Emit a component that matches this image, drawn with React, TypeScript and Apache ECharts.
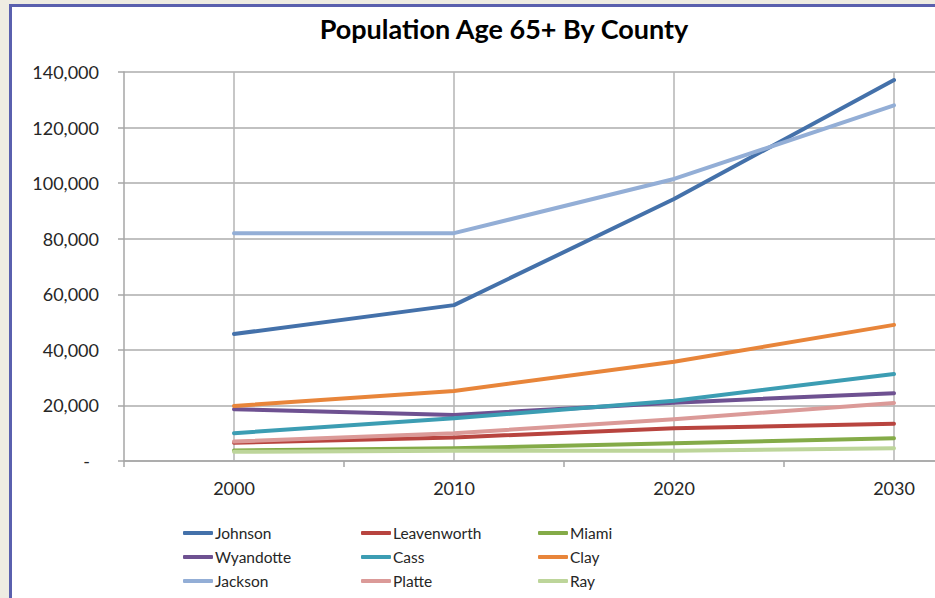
import React, { useEffect, useRef } from "react";
import * as echarts from "echarts";

const TITLE = "Population Age 65+ By County";
const YEARS = ["2000", "2010", "2020", "2030"];

const SERIES_NAMES = [
  "Johnson", "Leavenworth", "Miami",
  "Wyandotte", "Cass", "Clay",
  "Jackson", "Platte", "Ray",
];

const johnson = [45700, 56100, 94300, 137100];
const leavenworth = [6600, 8500, 11800, 13400];
const miami = [3800, 4600, 6400, 8200];
const wyandotte = [18600, 16600, 21000, 24400];
const cass = [10000, 15400, 21700, 31300];
const clay = [19800, 25200, 35700, 49000];
const jackson = [82000, 82000, 101500, 128000];
const platte = [7000, 10000, 15000, 20900];
const ray = [3300, 3700, 3700, 4600];

const VALUES = [johnson, leavenworth, miami, wyandotte, cass, clay, jackson, platte, ray];
const COLORS = [
  "#4471AA", "#B8443F", "#84AB48",
  "#6E5191", "#3C9DB3", "#E8853A",
  "#93AED6", "#DB9A98", "#BDD59A",
];

const Y_MIN = 0;
const Y_MAX = 140000;
const Y_STEP = 20000;

const LEGEND_COLUMNS = [
  ["Johnson", "Wyandotte", "Jackson"],
  ["Leavenworth", "Cass", "Platte"],
  ["Miami", "Clay", "Ray"],
];

const FONT = "Lato, 'Open Sans', sans-serif";

export default function App() {
  const ref = useRef<HTMLDivElement>(null);

  useEffect(() => {
    if (!ref.current) return;
    const chart = echarts.init(ref.current, null, { renderer: "svg" });
    const legendLefts = [183, 361, 538];
    chart.setOption({
      animation: false,
      backgroundColor: "transparent",
      textStyle: { fontFamily: FONT },
      graphic: [
        {
          type: "text",
          x: 504,
          y: 28,
          style: {
            text: TITLE,
            align: "center",
            verticalAlign: "middle",
            fontFamily: FONT,
            fontWeight: "bold",
            fontSize: 27,
            fill: "#000000",
          },
        },
      ],
      grid: { left: 124, top: 72, right: 6, bottom: 137, containLabel: false },
      xAxis: {
        type: "category",
        data: YEARS,
        boundaryGap: true,
        axisLine: { show: true, lineStyle: { color: "#A6A6A6", width: 1.5 } },
        axisTick: { show: true, length: 6, alignWithLabel: false, lineStyle: { color: "#A6A6A6", width: 1.5 } },
        axisLabel: { margin: 18, fontSize: 18, color: "#262626", fontFamily: FONT },
        splitLine: { show: true, alignWithLabel: true, interval: 0, lineStyle: { color: "#B5B5B5", width: 1.5 } },
      },
      yAxis: {
        type: "value",
        min: Y_MIN,
        max: Y_MAX,
        interval: Y_STEP,
        axisLine: { show: true, lineStyle: { color: "#A6A6A6", width: 1.5 } },
        axisTick: { show: true, length: 6, lineStyle: { color: "#A6A6A6", width: 1.5 } },
        splitLine: { show: true, lineStyle: { color: "#ADADAD", width: 1.5 } },
        axisLabel: {
          margin: 25,
          fontSize: 18,
          color: "#262626",
          fontFamily: FONT,
          formatter: (v: number) => (v === 0 ? "{dash|-}" : v.toLocaleString("en-US")),
          rich: { dash: { fontSize: 18, color: "#262626", fontFamily: FONT, padding: [0, 9, 0, 0] } },
        },
      },
      legend: LEGEND_COLUMNS.map((col, i) => ({
        data: col,
        orient: "vertical",
        left: legendLefts[i],
        top: 525,
        icon: "roundRect",
        itemWidth: 30,
        itemHeight: 4,
        itemGap: 8,
        padding: 0,
        textStyle: { fontSize: 15.5, lineHeight: 14, color: "#262626", fontFamily: FONT, padding: [0, 0, 0, -3] },
      })),
      series: SERIES_NAMES.map((name, i) => ({
        name,
        type: "line",
        data: VALUES[i],
        symbol: "none",
        showSymbol: false,
        lineStyle: { width: 4, color: COLORS[i], cap: "round", join: "round" },
        itemStyle: { color: COLORS[i] },
        z: 3,
      })),
    });
    return () => chart.dispose();
  }, []);

  return (
    <div style={{ position: "fixed", left: 0, top: 0, width: 935, height: 598, background: "#EEECE2", overflow: "hidden" }}>
      <div
        style={{
          position: "absolute",
          left: 9,
          top: 4,
          width: 1100,
          height: 700,
          background: "#FFFFFF",
          borderLeft: "3px solid #5A60AE",
          borderTop: "3px solid #5A60AE",
        }}
      />
      <div ref={ref} style={{ position: "absolute", left: 0, top: 0, width: 1010, height: 598 }} />
    </div>
  );
}
